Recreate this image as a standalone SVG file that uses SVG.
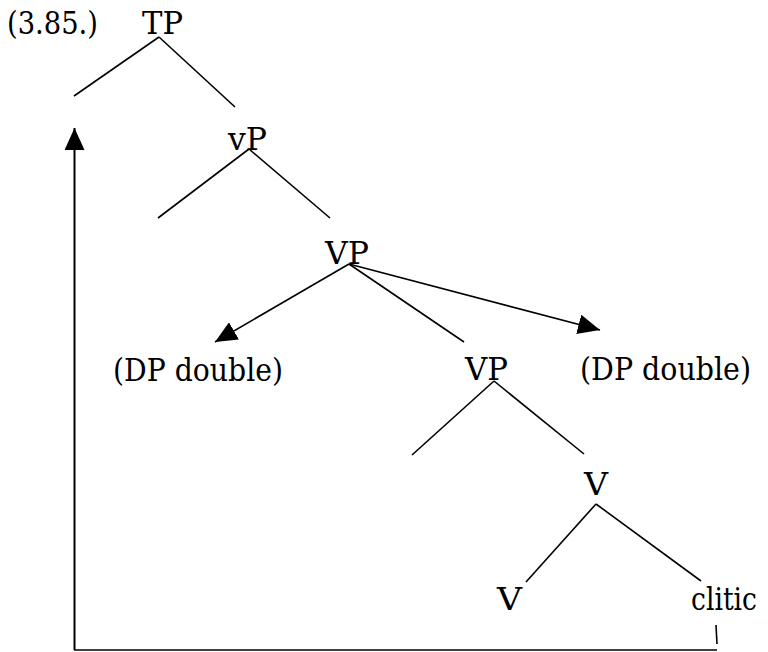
<svg xmlns="http://www.w3.org/2000/svg" width="768" height="652" viewBox="0 0 768 652">
<style>
  text { font-family: "DejaVu Serif", serif; font-size: 31px; fill: #000; }
  .e { stroke: #000; stroke-width: 1.6; fill: none; }
  .m { stroke: #000; stroke-width: 2; fill: none; }
</style>
<defs>
  <marker id="ah" markerUnits="userSpaceOnUse" markerWidth="22" markerHeight="20" refX="22" refY="10" orient="auto">
    <path d="M0,0 L22,10 L0,20 Z" fill="#000"/>
  </marker>
</defs>
<rect width="768" height="652" fill="#fff"/>
<g id="label"><text x="7" y="34" textLength="91" lengthAdjust="spacingAndGlyphs">(3.85.)</text></g>
<g id="TP"><text x="142" y="34" textLength="41" lengthAdjust="spacingAndGlyphs">TP</text></g>
<g id="vP"><text x="228" y="150" textLength="39" lengthAdjust="spacingAndGlyphs">vP</text></g>
<g id="VP1"><text x="325" y="264" textLength="44" lengthAdjust="spacingAndGlyphs">VP</text></g>
<g id="DP-left"><text x="113" y="381" textLength="170" lengthAdjust="spacingAndGlyphs">(DP double)</text></g>
<g id="VP2"><text x="465" y="380" textLength="43" lengthAdjust="spacingAndGlyphs">VP</text></g>
<g id="DP-right"><text x="580" y="380" textLength="171" lengthAdjust="spacingAndGlyphs">(DP double)</text></g>
<g id="V1"><text x="584" y="495" textLength="24" lengthAdjust="spacingAndGlyphs">V</text></g>
<g id="V2"><text x="497" y="610" textLength="25" lengthAdjust="spacingAndGlyphs">V</text></g>
<g id="clitic"><text x="691" y="610" font-size="28" textLength="66" lengthAdjust="spacingAndGlyphs">clitic</text></g>
<g id="connectors">
  <line class="e" x1="159" y1="37" x2="74" y2="96"/>
  <line class="e" x1="159" y1="37" x2="235" y2="107"/>
  <line class="e" x1="249" y1="149" x2="158" y2="218"/>
  <line class="e" x1="249" y1="149" x2="330" y2="218"/>
  <line class="e" x1="349" y1="264" x2="464" y2="342"/>
  <line class="e" x1="349" y1="264" x2="215" y2="342" marker-end="url(#ah)"/>
  <line class="e" x1="349" y1="264" x2="600" y2="330" marker-end="url(#ah)"/>
  <line class="e" x1="494" y1="381" x2="412" y2="455"/>
  <line class="e" x1="494" y1="381" x2="584" y2="454"/>
  <line class="e" x1="596" y1="504" x2="526" y2="582"/>
  <line class="e" x1="596" y1="504" x2="701" y2="581"/>
  <line class="e" x1="716" y1="625" x2="717" y2="644"/>
  <line class="e" x1="74" y1="650" x2="717" y2="650"/>
  <line class="m" x1="74.5" y1="650" x2="74.5" y2="128" marker-end="url(#ah)"/>
</g>
</svg>
